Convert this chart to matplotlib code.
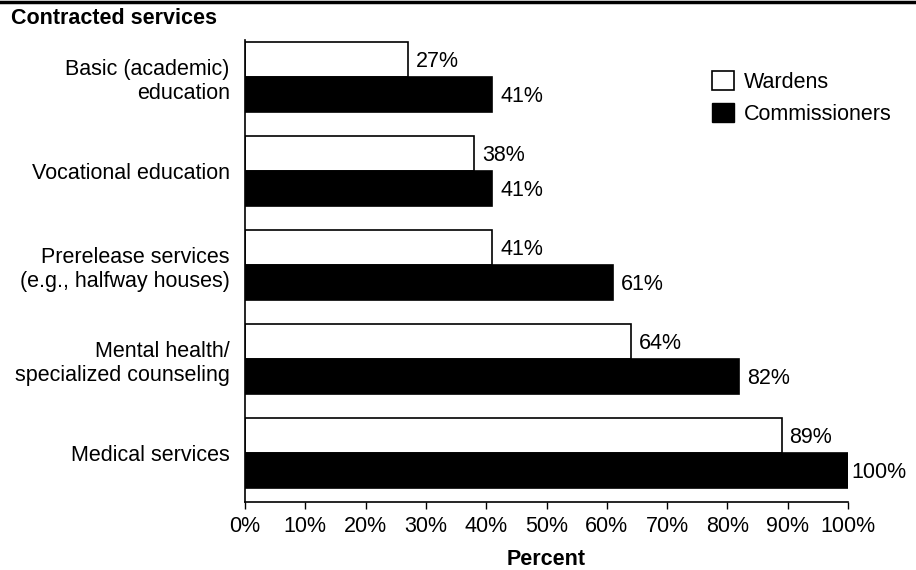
"""
Servicios contratados: porcentaje de directores (wardens) y comisionados
que reportan cada tipo de servicio contratado.
"""

import matplotlib.pyplot as plt
from matplotlib.patches import Patch
from matplotlib.lines import Line2D

servicios = [
    "Basic (academic)\neducation",
    "Vocational education",
    "Prerelease services\n(e.g., halfway houses)",
    "Mental health/\nspecialized counseling",
    "Medical services",
]
wardens = [27, 38, 41, 64, 89]
commissioners = [41, 41, 61, 82, 100]
ticks_x = [0, 10, 20, 30, 40, 50, 60, 70, 80, 90, 100]

plt.rcParams["font.family"] = ["Liberation Sans", "DejaVu Sans"]
TAM = 15.5

fig = plt.figure(figsize=(9.16, 5.70), dpi=100)
ax = fig.add_axes([245 / 916, 1 - 502 / 570, 603 / 916, 462 / 570])

alto = 0.37
posiciones = list(range(len(servicios)))

# Barras de cada grupo: blanca arriba, negra abajo
for i, (w, c) in enumerate(zip(wardens, commissioners)):
    ax.barh(i - alto / 2, w, height=alto, color="white", edgecolor="black",
            linewidth=1.2)
    ax.barh(i + alto / 2, c, height=alto, color="black", edgecolor="black",
            linewidth=1.2)
    ax.text(w + 1.3, i - alto / 2 + 0.02, f"{w}%", va="center", ha="left",
            fontsize=TAM)
    ax.text(c + 0.5 if c == 100 else c + 1.3, i + alto / 2 + 0.02, f"{c}%",
            va="center", ha="left", fontsize=TAM)

ax.set_xlim(0, 100)
ax.set_ylim(4.52, -0.394)
ax.set_yticks(posiciones)
ax.set_yticklabels(servicios, fontsize=TAM, linespacing=1.2)
ax.tick_params(axis="y", length=0, pad=11)
ax.set_xticks(ticks_x)
ax.set_xticklabels([f"{t}%" for t in ticks_x], fontsize=TAM)
ax.tick_params(axis="x", length=5, width=1, direction="out", pad=5)

for lado in ["top", "right"]:
    ax.spines[lado].set_visible(False)
ax.spines["left"].set_linewidth(1.2)
ax.spines["bottom"].set_linewidth(1.2)

ax.set_xlabel("Percent", fontsize=TAM, fontweight="bold", labelpad=9)

# Título y línea superior
fig.text(11 / 916, 1 - 19 / 570, "Contracted services", fontsize=TAM,
         fontweight="bold", va="center", ha="left")
fig.add_artist(Line2D([0, 1], [1 - 2 / 570, 1 - 2 / 570], color="black",
                      linewidth=2.5, transform=fig.transFigure))

# Leyenda
handles = [
    Patch(facecolor="white", edgecolor="black", linewidth=1.2, label="Wardens"),
    Patch(facecolor="black", edgecolor="black", label="Commissioners"),
]
fig.legend(handles=handles, loc="upper left",
           bbox_to_anchor=(712 / 916, 1 - 71 / 570), frameon=False,
           borderpad=0, borderaxespad=0,
           fontsize=TAM, handlelength=1.0, handleheight=1.0,
           handletextpad=0.5, labelspacing=0.45)

fig.savefig("out.png", dpi=100)
